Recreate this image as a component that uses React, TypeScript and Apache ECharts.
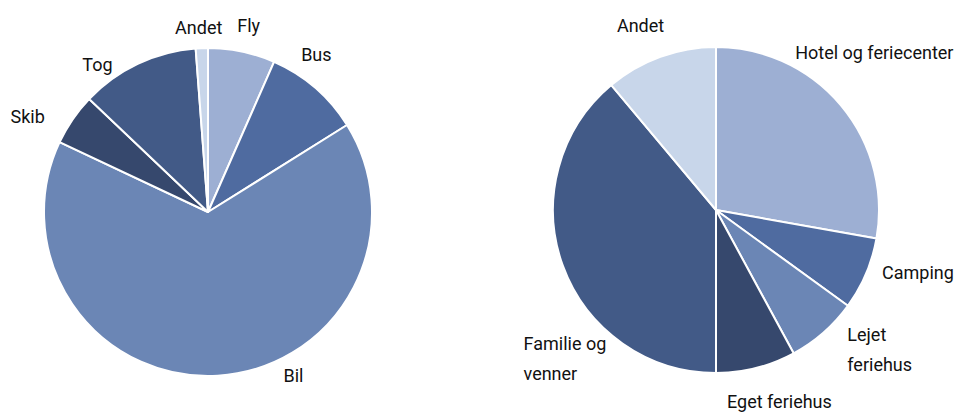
import React, { useEffect, useRef } from "react";
import * as echarts from "echarts";

const transportNames = ["Fly", "Bus", "Bil", "Skib", "Tog", "Andet"];
const transportValues = [6.6, 9.5, 65.9, 5.1, 11.7, 1.2];
const transportColors = ["#9dafd3", "#4f6ba0", "#6b86b5", "#36486d", "#425a87", "#c8d6ea"];
const transportLabelShift = [[-12, -14], [-27, -24], [60, -12], [-13, 4], [-15, 12], [26, -9]];

const lodgingNames = ["Hotel og feriecenter", "Camping", "Lejet feriehus", "Eget feriehus", "Familie og venner", "Andet"];
const lodgingValues = [27.8, 7.2, 7.1, 7.9, 38.9, 11.1];
const lodgingColors = ["#9dafd3", "#4f6ba0", "#6b86b5", "#36486d", "#425a87", "#c8d6ea"];
const lodgingLabelShift = [[-60, -45], [0, -6], [11, 8], [-37, 22], [-23, 89], [13, -20]];

const wrapped: Record<string, string> = {
  "Lejet feriehus": "Lejet\nferiehus",
  "Familie og venner": "Familie og\nvenner",
};

const FONT = "Roboto, 'Open Sans', sans-serif";

export default function App() {
  const ref = useRef<HTMLDivElement>(null);
  useEffect(() => {
    if (!ref.current) return;
    const chart = echarts.init(ref.current, undefined, { renderer: "svg" });
    const mk = (
      names: string[],
      values: number[],
      colors: string[],
      shifts: number[][],
      center: string[],
      radius: number
    ) => ({
      type: "pie",
      center,
      radius,
      startAngle: 90,
      clockwise: true,
      avoidLabelOverlap: false,
      itemStyle: { borderColor: "#ffffff", borderWidth: 2 },
      label: {
        show: true,
        position: "outside",
        color: "#111111",
        fontSize: 18,
        fontFamily: FONT,
        lineHeight: 30,
        formatter: (p: any) => wrapped[p.name] || p.name,
      },
      labelLine: { show: false, length: 12, length2: 0 },
      labelLayout: (p: any) => {
        const s = shifts[p.dataIndex];
        const name = names[p.dataIndex];
        const out: any = { dx: s[0], dy: s[1] };
        if (name === "Familie og venner") out.align = "left";
        return out;
      },
      data: names.map((n, i) => ({ name: n, value: values[i], itemStyle: { color: colors[i] } })),
    });
    chart.setOption({
      animation: false,
      backgroundColor: "#ffffff",
      series: [
        mk(transportNames, transportValues, transportColors, transportLabelShift, ["208", "212"], 164),
        mk(lodgingNames, lodgingValues, lodgingColors, lodgingLabelShift, ["716", "210"], 163),
      ],
    });
    return () => chart.dispose();
  }, []);
  return <div ref={ref} style={{ position: "fixed", left: 0, top: 0, width: 956, height: 412 }} />;
}
